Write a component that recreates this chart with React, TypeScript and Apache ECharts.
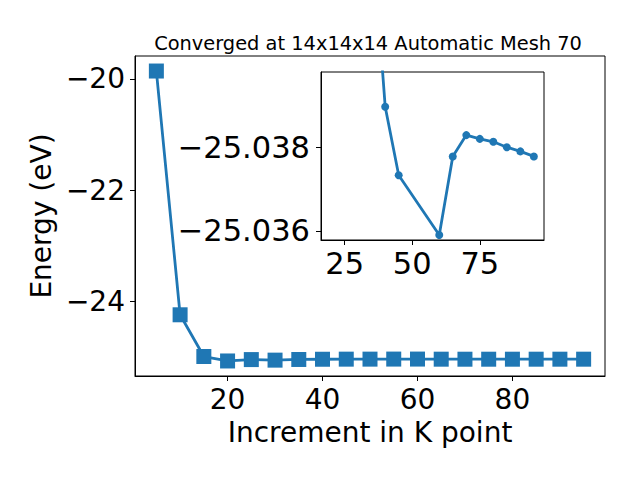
import React, { useEffect, useRef } from "react";
import * as echarts from "echarts";

const kPoints = [5, 10, 15, 20, 25, 30, 35, 40, 45, 50, 55, 60, 65, 70, 75, 80, 85, 90, 95];
const energies = [
  -19.86, -24.24, -24.99, -25.07, -25.045, -25.055, -25.043, -25.039, -25.0373, -25.037,
  -25.036, -25.0359, -25.0378, -25.0383, -25.0382, -25.0381, -25.038, -25.0379, -25.0378,
];
const insetK = [20, 25, 30, 35, 40, 45, 60, 65, 70, 75, 80, 85, 90, 95];
const insetEnergies = [
  -25.07, -25.045, -25.055, -25.0433, -25.03897, -25.03733, -25.0359, -25.03778, -25.03829,
  -25.0382, -25.03813, -25.038, -25.0379, -25.03778,
];
const mainXTicks = [20, 40, 60, 80];
const mainYTicks = [-24, -22, -20];
const insetXTicks = [25, 50, 75];
const insetYTicks = [-25.038, -25.036];
const titleText = "Converged at 14x14x14 Automatic Mesh 70";
const xName = "Increment in K point";
const yName = "Energy (eV)";

const FONT = "DejaVu Sans";
const BLUE = "#1f77b4";

const fmt = (v: number, d: number) => (v < 0 ? "\u2212" : "") + Math.abs(v).toFixed(d);

export default function App() {
  const ref = useRef<HTMLDivElement>(null);
  useEffect(() => {
    if (!ref.current) return;
    const chart = echarts.init(ref.current, null, { renderer: "svg" });
    const axisCommon = {
      axisLine: { show: true, onZero: false, lineStyle: { color: "#000", width: 1 } },
      axisTick: { show: true, inside: false, length: 5, lineStyle: { color: "#000", width: 1 } },
      splitLine: { show: false },
    };
    const labelStyle = { color: "#000", fontFamily: FONT, fontSize: 28 };
    const insetLabelStyle = { color: "#000", fontFamily: FONT, fontSize: 30.5 };
    chart.setOption({
      animation: false,
      backgroundColor: "#fff",
      title: {
        text: titleText,
        left: 363,
        top: 29,
        textAlign: "center",
        textStyle: { fontFamily: FONT, fontSize: 19.4, fontWeight: "normal", color: "#000" },
      },
      grid: [
        { left: 135, right: 35, top: 56, bottom: 104, show: true, borderColor: "#000", borderWidth: 1, backgroundColor: "#fff" },
        { left: 321, top: 72, width: 223, height: 168, show: true, borderColor: "#000", borderWidth: 1, backgroundColor: "#fff" },
      ],
      xAxis: [
        {
          type: "value",
          gridIndex: 0,
          min: 0.5,
          max: 99.5,
          ...axisCommon,
          axisTick: { ...axisCommon.axisTick, customValues: mainXTicks },
          axisLabel: { ...labelStyle, margin: 9, customValues: mainXTicks, formatter: (v: number) => fmt(v, 0) },
          name: xName,
          nameLocation: "middle",
          nameGap: 42,
          nameTextStyle: { fontFamily: FONT, fontSize: 28, color: "#000" },
        },
        {
          type: "value",
          gridIndex: 1,
          min: 16.25,
          max: 98.75,
          ...axisCommon,
          axisTick: { ...axisCommon.axisTick, customValues: insetXTicks },
          axisLabel: { ...insetLabelStyle, margin: 8, customValues: insetXTicks, formatter: (v: number) => fmt(v, 0) },
        },
      ],
      yAxis: [
        {
          type: "value",
          gridIndex: 0,
          min: -25.34,
          max: -19.59,
          ...axisCommon,
          axisTick: { ...axisCommon.axisTick, customValues: mainYTicks },
          axisLabel: { ...labelStyle, margin: 10, customValues: mainYTicks, formatter: (v: number) => fmt(v, 0) },
          name: yName,
          nameLocation: "middle",
          nameGap: 74,
          nameRotate: 90,
          nameTextStyle: { fontFamily: FONT, fontSize: 28, color: "#000" },
        },
        {
          type: "value",
          gridIndex: 1,
          inverse: true,
          min: -25.0398,
          max: -25.03578,
          ...axisCommon,
          axisTick: { ...axisCommon.axisTick, customValues: insetYTicks },
          axisLabel: { ...insetLabelStyle, margin: 11, customValues: insetYTicks, formatter: (v: number) => fmt(v, 3) },
        },
      ],
      series: [
        {
          type: "line",
          xAxisIndex: 0,
          yAxisIndex: 0,
          data: kPoints.map((k, i) => [k, energies[i]]),
          symbol: "rect",
          symbolSize: 15,
          lineStyle: { color: BLUE, width: 2.8 },
          itemStyle: { color: BLUE },
          z: 2,
        },
        {
          type: "line",
          xAxisIndex: 1,
          yAxisIndex: 1,
          data: insetK.map((k, i) => [k, insetEnergies[i]]),
          symbol: "circle",
          symbolSize: 8,
          clip: true,
          lineStyle: { color: BLUE, width: 2.8 },
          itemStyle: { color: BLUE },
          z: 5,
        },
      ],
    });
    return () => chart.dispose();
  }, []);
  return (
    <div
      ref={ref}
      style={{ position: "fixed", left: 0, top: 0, width: 640, height: 480 }}
    />
  );
}
